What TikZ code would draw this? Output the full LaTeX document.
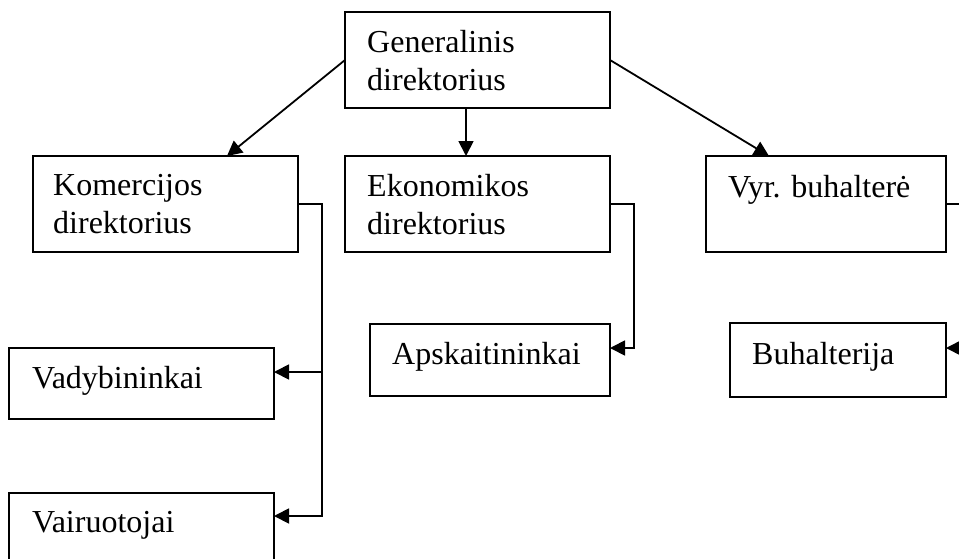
\documentclass[tikz,border=0pt]{standalone}
\usepackage{fontspec}
\setmainfont{Liberation Serif}
\usetikzlibrary{arrows.meta,calc}
\tikzset{
  box/.style={draw, line width=1.8pt, inner sep=0pt, outer sep=0pt, anchor=north west},
  lbl/.style={anchor=base west, inner sep=0pt, font=\fontsize{32}{38}\selectfont},
  conn/.style={line width=1.8pt},
  arr/.style={conn, -{Triangle[length=15pt,width=15pt]}},
}
\newcommand{\twol}[2]{\begin{tabular}[t]{@{}l@{}}#1\\#2\end{tabular}}
\begin{document}
\begin{tikzpicture}[x=1pt,y=-1pt]
\useasboundingbox (0,0) rectangle (959,558);
\clip (0,0) rectangle (959,558);
% boxes
\node[box, minimum width=265pt, minimum height=96pt] (gen) at (345,12) {};
\node[box, minimum width=265pt, minimum height=96pt] (kom) at (33,156) {};
\node[box, minimum width=265pt, minimum height=96pt] (eko) at (345,156) {};
\node[box, minimum width=240pt, minimum height=96pt] (vyr) at (706,156) {};
\node[box, minimum width=265pt, minimum height=71pt] (vad) at (9,348) {};
\node[box, minimum width=265pt, minimum height=90pt] (vair) at (9,493) {};
\node[box, minimum width=240pt, minimum height=72pt] (aps) at (370,324) {};
\node[box, minimum width=216pt, minimum height=74pt] (buh) at (730,323) {};
% labels
\node[lbl] (tgen) at ($(gen.north west)+(22,40)$) {\twol{Generalinis}{direktorius}};
\node[lbl] (tkom) at ($(kom.north west)+(20,39)$) {\twol{Komercijos}{direktorius}};
\node[lbl] (teko) at ($(eko.north west)+(22,40)$) {\twol{Ekonomikos}{direktorius}};
\node[lbl] (tvyr) at ($(vyr.north west)+(22,41)$) {Vyr. buhalterė};
\node[lbl] (tvad) at ($(vad.north west)+(23,40)$) {Vadybininkai};
\node[lbl] (tvair) at ($(vair.north west)+(23,39)$) {Vairuotojai};
\node[lbl] (taps) at ($(aps.north west)+(22,40)$) {Apskaitininkai};
\node[lbl] (tbuh) at ($(buh.north west)+(22,41)$) {Buhalterija};
% connectors from top
\draw[arr] (gen.west) -- ($(kom.north west)+(194,0)$);
\draw[arr] (gen.east) -- ($(vyr.north west)+(63,0)$);
\draw[arr] ($(gen.south west)+(121,0)$) -- ($(eko.north west)+(121,0)$);
% buses
\coordinate (kbus) at (322,0);
\coordinate (ebus) at (634,0);
\coordinate (vbus) at (975,0);
\draw[arr] (kom.east) -- (kom.east -| kbus) |- ($(vad.north east)+(0,24)$);
\draw[arr] (kom.east -| kbus) |- ($(vair.north east)+(0,23)$);
\draw[arr] (eko.east) -- (eko.east -| ebus) |- ($(aps.north east)+(0,24)$);
\draw[arr] (vyr.east) -- (vyr.east -| vbus) |- ($(buh.north east)+(0,25)$);
\end{tikzpicture}
\end{document}
